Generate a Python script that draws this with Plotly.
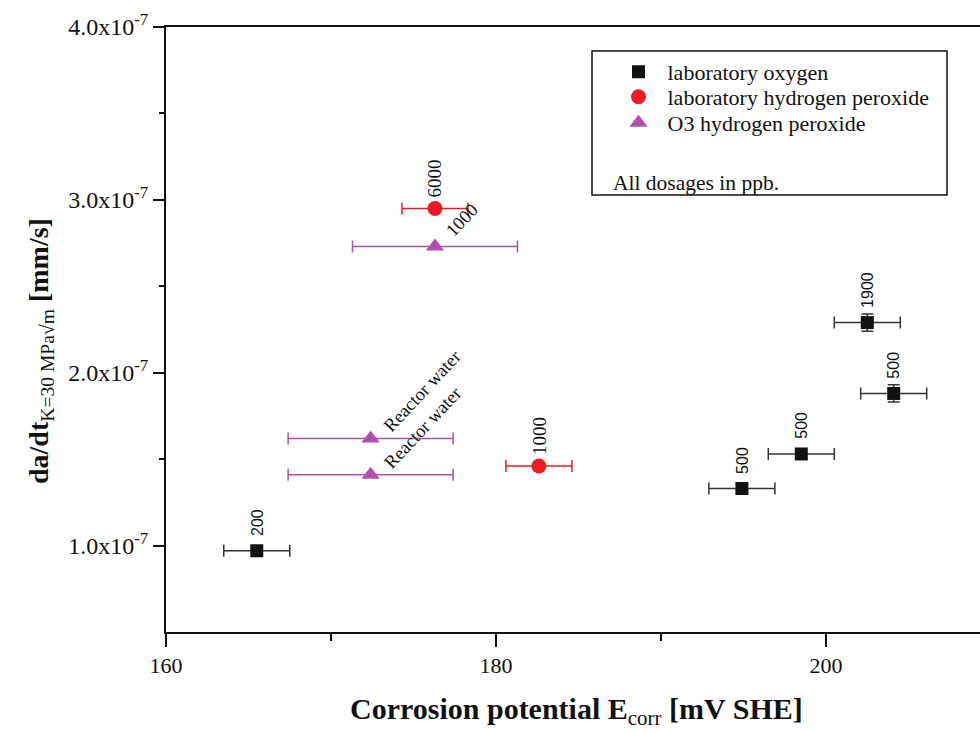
import plotly.graph_objects as go

SCALE = 1e-7

# laboratory oxygen
ox_x = [165.5, 194.9, 198.5, 204.1, 202.5]
ox_y = [0.97, 1.33, 1.53, 1.88, 2.29]
ox_xerr = [2.0, 2.0, 2.0, 2.0, 2.0]
ox_yerr = [0.0, 0.0, 0.0, 0.05, 0.05]
ox_lab = ["200", "500", "500", "500", "1900"]

# laboratory hydrogen peroxide
h2_x = [176.3, 182.6]
h2_y = [2.95, 1.46]
h2_xerr = [2.0, 2.0]
h2_lab = ["6000", "1000"]

# O3 hydrogen peroxide
o3_x = [176.3, 172.4, 172.4]
o3_y = [2.73, 1.62, 1.41]
o3_xerr = [5.0, 5.0, 5.0]
o3_lab = ["1000", "Reactor water", "Reactor water"]

y_ticks = [1.0, 2.0, 3.0, 4.0]
y_minor = [1.5, 2.5, 3.5]
x_ticks = [160, 180, 200]
x_minor = [170, 190]

BLACK = "#111111"
RED = "#ec1c24"
MAG = "#b24eb2"
SERIF = "Liberation Serif"
SANS = "Liberation Sans"

fig = go.Figure()
fig.add_trace(go.Scatter(
    x=ox_x, y=[v * SCALE for v in ox_y], mode="markers", name="laboratory oxygen",
    legend="legend",
    marker=dict(symbol="square", size=13, color=BLACK),
    error_x=dict(type="data", array=ox_xerr, color="#333333", thickness=1.5, width=6),
    error_y=dict(type="data", array=[v * SCALE for v in ox_yerr], color="#333333", thickness=1.5, width=6),
))
fig.add_trace(go.Scatter(
    x=h2_x, y=[v * SCALE for v in h2_y], mode="markers", name="laboratory hydrogen peroxide",
    legend="legend2",
    marker=dict(symbol="circle", size=15, color=RED),
    error_x=dict(type="data", array=h2_xerr, color=RED, thickness=1.5, width=6),
))
fig.add_trace(go.Scatter(
    x=o3_x, y=[v * SCALE for v in o3_y], mode="markers", name="O3 hydrogen peroxide",
    legend="legend3",
    marker=dict(symbol="triangle-up", size=16, color=MAG),
    error_x=dict(type="data", array=o3_xerr, color=MAG, thickness=1.5, width=6),
))

ann = []
for xv, yv, t in zip(ox_x, ox_y, ox_lab):
    ann.append(dict(x=xv, y=yv * SCALE, text=t, showarrow=False, textangle=-90,
                    xanchor="center", yanchor="bottom", yshift=13,
                    font=dict(family=SANS, size=16, color=BLACK)))
for xv, yv, t in zip(h2_x, h2_y, h2_lab):
    ann.append(dict(x=xv, y=yv * SCALE, text=t, showarrow=False, textangle=-90,
                    xanchor="center", yanchor="bottom", yshift=9,
                    font=dict(family=SERIF, size=19, color=BLACK)))
o3_shift = [(27, 27), (52, 47), (52, 47)]
for (xv, yv, t), (dx, dy) in zip(zip(o3_x, o3_y, o3_lab), o3_shift):
    ann.append(dict(x=xv, y=yv * SCALE, text=t, showarrow=False, textangle=-47,
                    xanchor="center", yanchor="middle", xshift=dx, yshift=dy,
                    font=dict(family=SERIF, size=18.5, color=BLACK)))

# axis titles
ann.append(dict(xref="paper", yref="paper", x=(576 - 166) / 814, y=(632 - 711) / 605,
                text="<b>Corrosion potential E</b><sub>corr</sub><b> [mV SHE]</b>",
                showarrow=False, xanchor="center", yanchor="middle",
                font=dict(family=SERIF, size=30, color=BLACK)))
ann.append(dict(xref="paper", yref="paper", x=(40 - 166) / 814, y=(632 - 351) / 605,
                text="<b>da/dt</b><sub>K=30 MPa\u221am</sub><b> [mm/s]</b>", textangle=-90,
                showarrow=False, xanchor="center", yanchor="middle",
                font=dict(family=SERIF, size=28, color=BLACK)))
# legend note
ann.append(dict(xref="paper", yref="paper", x=(611 - 166) / 814, y=(632 - 183) / 605,
                text="All dosages in ppb.", showarrow=False, xanchor="left", yanchor="middle",
                font=dict(family=SERIF, size=21.5, color=BLACK)))

leg_rows = [72, 97, 123]
def leg(py):
    return dict(x=(609.5 - 166) / 814, y=(632 - py) / 605, xanchor="left", yanchor="middle",
                bgcolor="rgba(0,0,0,0)", borderwidth=0, itemwidth=48,
                font=dict(family=SERIF, size=22, color=BLACK))

fig.update_layout(
    width=980, height=731,
    margin=dict(l=166, r=0, t=27, b=99),
    paper_bgcolor="white", plot_bgcolor="white",
    font=dict(family=SERIF, color=BLACK),
    annotations=ann,
    shapes=[dict(type="rect", xref="paper", yref="paper",
                 x0=(592 - 166) / 814, x1=(947 - 166) / 814,
                 y0=(632 - 195) / 605, y1=(632 - 51) / 605,
                 line=dict(color=BLACK, width=1.5), fillcolor="rgba(0,0,0,0)")],
    legend=leg(leg_rows[0]), legend2=leg(leg_rows[1]), legend3=leg(leg_rows[2]),
    showlegend=True,
    xaxis=dict(range=[160, 209.33], tickvals=x_ticks, ticktext=[str(v) for v in x_ticks],
               ticks="outside", ticklen=13, tickwidth=2, tickcolor=BLACK,
               showline=True, linewidth=2, linecolor=BLACK, mirror=True,
               showgrid=False, zeroline=False,
               tickfont=dict(family=SERIF, size=22, color=BLACK),
               minor=dict(tickvals=x_minor, ticks="outside", ticklen=7, tickwidth=2, tickcolor=BLACK, showgrid=False)),
    yaxis=dict(range=[0.5 * SCALE, 4.0 * SCALE], tickvals=[v * SCALE for v in y_ticks],
               ticktext=["%.1fx10<sup>-7</sup>" % v for v in y_ticks],
               ticks="outside", ticklen=11, tickwidth=2, tickcolor=BLACK,
               showline=True, linewidth=2, linecolor=BLACK,
               showgrid=False, zeroline=False,
               tickfont=dict(family=SERIF, size=24, color=BLACK),
               minor=dict(tickvals=[v * SCALE for v in y_minor], ticks="outside", ticklen=5, tickwidth=2, tickcolor=BLACK, showgrid=False)),
)

fig.write_html("out.html")
